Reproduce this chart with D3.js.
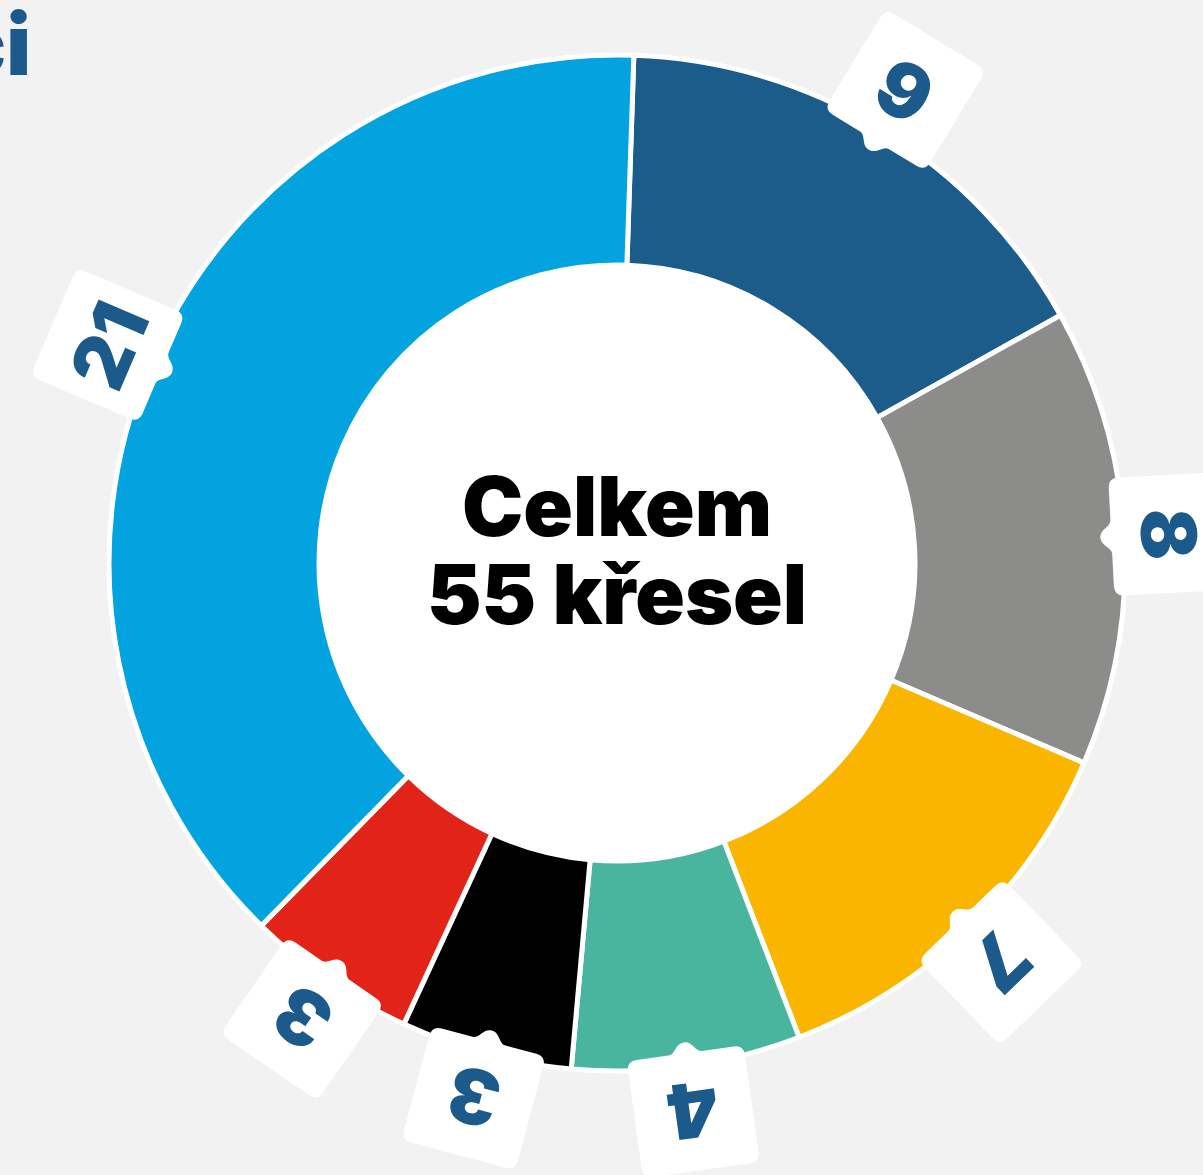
<html>
  <meta charset="utf-8" />
  <script src="https://d3js.org/d3.v7.min.js"></script>
  <body style="margin: 0; background: #f2f2f2;">
    <svg width="1203" height="1175" id="svg_Donut"></svg>

    <script>
      // seats per party, clockwise from the top
      const seats = [9, 8, 7, 4, 3, 3, 21];
      const partyColors = [
        "#1c5c8a",
        "#8c8c8a",
        "#f9b500",
        "#4ab59f",
        "#000000",
        "#e12417",
        "#03a3df",
      ];
      const centerLines = ["Celkem", "55 křesel"];
      const titleTail = "ci";

      const cx = 617;
      const cy = 563;
      const outerR = 508;
      const innerR = 298;
      const labelR = 554;
      const offset = (1.9 * Math.PI) / 180;

      const svg = d3.select("svg");

      svg
        .append("text")
        .attr("x", 31)
        .attr("y", 75)
        .attr("text-anchor", "end")
        .attr("font-family", "Inter")
        .attr("font-weight", 900)
        .attr("font-size", 84)
        .attr("fill", "#1b5a8b")
        .text(titleTail);

      const chart = svg
        .append("g")
        .attr("transform", `translate(${cx}, ${cy})`);

      const pie = d3
        .pie()
        .sort(null)
        .startAngle(offset)
        .endAngle(offset + 2 * Math.PI);

      const arc = d3.arc().innerRadius(innerR).outerRadius(outerR);

      const slices = pie(seats);

      chart.append("circle").attr("r", innerR).attr("fill", "white");

      chart
        .selectAll(".slice")
        .data(slices)
        .enter()
        .append("path")
        .attr("class", "slice")
        .attr("d", arc)
        .attr("fill", (d, i) => partyColors[i])
        .attr("stroke", "white")
        .attr("stroke-width", 5)
        .attr("stroke-linejoin", "round");

      // label tag: rounded box, small bump on the side facing the centre
      const s = 59;
      const rc = 10;
      const tagPath = [
        `M ${-s + rc} ${-s}`,
        `L ${s - rc} ${-s}`,
        `Q ${s} ${-s} ${s} ${-s + rc}`,
        `L ${s} ${s - rc}`,
        `Q ${s} ${s} ${s - rc} ${s}`,
        `L 17 ${s}`,
        `C 10 ${s} 9 ${s + 11} 0 ${s + 11}`,
        `C -9 ${s + 11} -10 ${s} -17 ${s}`,
        `L ${-s + rc} ${s}`,
        `Q ${-s} ${s} ${-s} ${s - rc}`,
        `L ${-s} ${-s + rc}`,
        `Q ${-s} ${-s} ${-s + rc} ${-s}`,
        "Z",
      ].join(" ");

      const tag = chart
        .selectAll(".tag")
        .data(slices)
        .enter()
        .append("g")
        .attr("class", "tag")
        .attr("transform", (d) => {
          const a = (d.startAngle + d.endAngle) / 2;
          const x = labelR * Math.sin(a);
          const y = -labelR * Math.cos(a);
          return `translate(${x}, ${y}) rotate(${(a * 180) / Math.PI})`;
        });

      tag.append("path").attr("d", tagPath).attr("fill", "white");

      tag
        .append("text")
        .attr("text-anchor", "middle")
        .attr("y", 29)
        .attr("font-family", "Inter")
        .attr("font-weight", 900)
        .attr("font-size", 76)
        .attr("fill", "#1b5a8b")
        .text((d) => d.data);

      chart
        .selectAll(".centerText")
        .data(centerLines)
        .enter()
        .append("text")
        .attr("class", "centerText")
        .attr("text-anchor", "middle")
        .attr("y", (d, i) => -27 + i * 88)
        .attr("font-family", "Inter")
        .attr("font-weight", 900)
        .attr("font-size", 82)
        .attr("fill", "#000")
        .text((d) => d);
    </script>
  </body>
</html>
